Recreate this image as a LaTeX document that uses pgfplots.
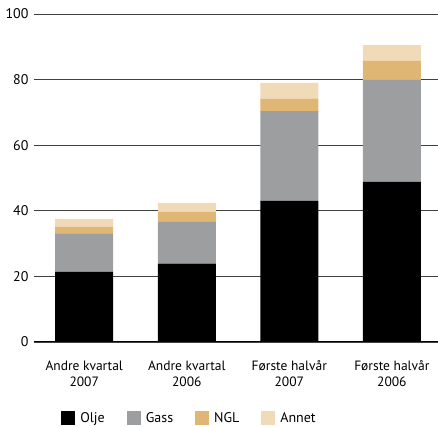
\documentclass[border=0pt]{standalone}
\usepackage{fontspec}
\setmainfont{PT Sans}
\usepackage{pgfplots}
\pgfplotsset{compat=1.18}
\definecolor{olje}{HTML}{000000}
\definecolor{gass}{HTML}{9D9E9F}
\definecolor{ngl}{HTML}{DFB674}
\definecolor{annet}{HTML}{F0DAB8}
\begin{document}
\begin{tikzpicture}
\path[use as bounding box] (-34pt,-85pt) rectangle (404pt,342pt);
\begin{axis}[
    scale only axis,
    width=404pt, height=328pt,
    ybar stacked,
    bar width=58pt,
    xmin=-0.49, xmax=3.45,
    ymin=0, ymax=100,
    ytick={0,20,...,100},
    xtick=data,
    xticklabels={{Andre kvartal\\2007},{Andre kvartal\\2006},{Første halvår\\2007},{Første halvår\\2006}},
    xticklabel style={align=center, font=\fontsize{13.5}{16}\selectfont, yshift=-15pt},
    yticklabel style={font=\fontsize{14}{16}\selectfont, xshift=-2pt},
    /pgf/number format/assume math mode=true,
    axis line style={draw=none},
    major tick length=0pt,
    ymajorgrids,
    grid style={black!75, line width=0.8pt},
    legend columns=4,
    legend style={at={(0.385,-0.232)}, anchor=center, draw=none,
        font=\fontsize{14}{16}\selectfont,
        /tikz/every odd column/.append style={column sep=3pt},
        /tikz/every even column/.append style={column sep=20pt}},
    legend image code/.code={\fill[#1] (0pt,-7pt) rectangle (14pt,7pt);},
]
\addplot+[draw=none, fill=olje] coordinates {(0,21.4) (1,23.9) (2,43.0) (3,48.8)};
\addplot+[draw=none, fill=gass] coordinates {(0,11.6) (1,12.7) (2,27.4) (3,31.1)};
\addplot+[draw=none, fill=ngl] coordinates {(0,2.1) (1,3.1) (2,3.7) (3,5.8)};
\addplot+[draw=none, fill=annet] coordinates {(0,2.4) (1,2.7) (2,4.9) (3,4.8)};
\legend{Olje,Gass,NGL,Annet}
\draw[black, line width=1pt] (rel axis cs:0,0) -- (rel axis cs:1,0);
\end{axis}
\end{tikzpicture}
\end{document}
